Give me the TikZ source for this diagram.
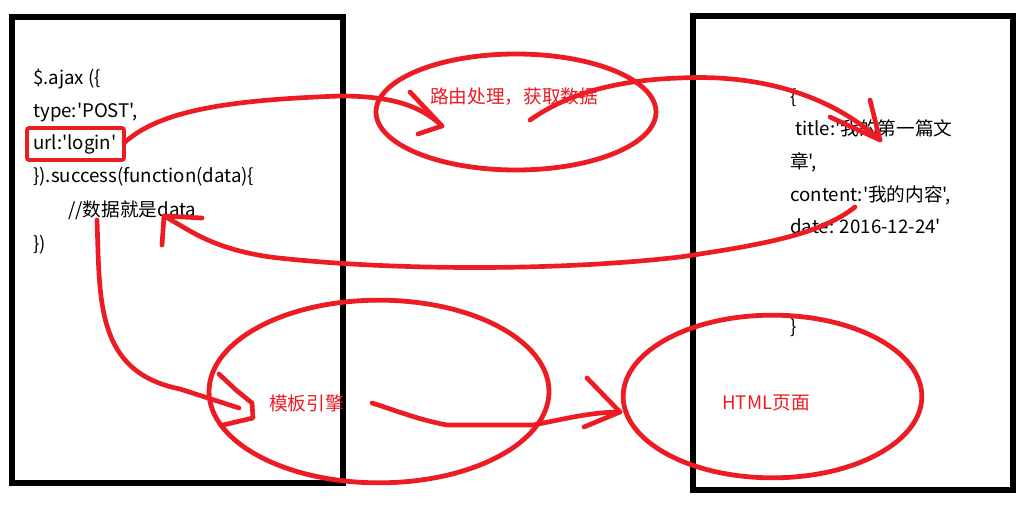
\documentclass[tikz,border=0pt]{standalone}
\usepackage{fontspec}
\newfontfamily\cjk{Noto Sans CJK SC}
\usetikzlibrary{shapes.geometric}
\definecolor{pred}{HTML}{ED1C24}
\tikzset{
  frame/.style={draw=black,line width=3.8pt},
  redline/.style={draw=pred,line width=3.5pt,line cap=round,line join=round},
  oval/.style={ellipse,draw=pred,line width=3.6pt,inner sep=0pt},
  code/.style={anchor=base west,inner sep=0pt,font=\cjk\fontsize{14}{16}\selectfont},
  redtext/.style={code,text=pred},
}
\begin{document}
\begin{tikzpicture}[x=0.75pt,y=-0.75pt]
\useasboundingbox (0,0) rectangle (1018,521);
\fill[white] (0,0) rectangle (1018,521);
% frames
\draw[frame] (12,17) rectangle (343,483);
\draw[frame] (693,16) rectangle (1013,490);
% left code
\node[code] (l1) at (33,84) {\$.ajax (\{};
\node[code] (l2) at (33,117) {type:'POST',};
\node[code] (l3) at (33,149) {url:'login'};
\node[code] (l4) at (33,182) {\}).success(function(data)\{};
\node[code] (l5) at (68,216) {//数据就是data};
\node[code] (l6) at (33,250) {\})};
% right code
\node[code] (r1) at (790,103) {\{};
\node[code] (r2) at (795,135) {title:'我的第一篇文};
\node[code] (r3) at (790,168) {章',};
\node[code] (r4) at (790,201) {content:'我的内容',};
\node[code] (r5) at (790,233) {date: 2016-12-24'};
\node[code] (r6) at (790,333) {\}};
% url box
\draw[pred,line width=2.8pt,rounded corners=1.5pt] (27,128) rectangle (124,160);
\coordinate (urlE) at (124,143);
% ellipses
\node[oval,minimum width=210pt,minimum height=87pt] (route) at (516,112) {};
\node[oval,minimum width=255pt,minimum height=137pt] (tpl) at (379,391.5) {};
\node[oval,minimum width=224pt,minimum height=122pt] (html) at (772.5,396.5) {};
\node[redtext] (routeT) at (430,103) {路由处理，获取数据};
\node[redtext] (tplT) at (269,410) {模板引擎};
\node[redtext] (htmlT) at (722,409) {HTML页面};
% connector ends
\coordinate (aEnd) at (442,126);
\coordinate (bStart) at (530,120);
\coordinate (bEnd) at (880,140);
\coordinate (cStart) at (855,207);
\coordinate (cEnd) at (164,216);
\coordinate (dStart) at (97,220);
\coordinate (dEnd) at (239,408);
\coordinate (eStart) at (372,403);
\coordinate (eEnd) at (620,412);
% A: url -> route
\draw[redline] (urlE) .. controls (160,110) and (230,100) .. (340,96)
  .. controls (390,96) and (420,105) .. (aEnd);
\draw[redline] (410,92) -- (aEnd) -- (418,134);
% B: route -> data
\draw[redline] (bStart) .. controls (570,92) and (620,80) .. (680,78)
  .. controls (760,74) and (830,95) .. (bEnd);
\draw[redline] (870,100) -- (bEnd) -- (830,117);
% C: data -> success
\draw[redline] (cStart) .. controls (820,235) and (760,245) .. (680,257)
  .. controls (550,272) and (380,270) .. (270,257)
  .. controls (210,248) and (190,230) .. (cEnd);
\draw[redline] (202,218) -- (cEnd) -- (162,245);
% D: data -> template engine
\draw[redline] (dStart) .. controls (100,300) and (95,372) .. (180,389) -- (dEnd);
\draw[redline] (219,374) -- (236,390) -- (252,403) -- (253,418) -- (223,425);
% E: template -> html
\draw[redline] (eStart) .. controls (400,412) and (420,420) .. (447,425)
  -- (533,425) .. controls (560,420) and (590,412) .. (eEnd);
\draw[redline] (587,378) -- (eEnd) -- (584,427);
\end{tikzpicture}
\end{document}
